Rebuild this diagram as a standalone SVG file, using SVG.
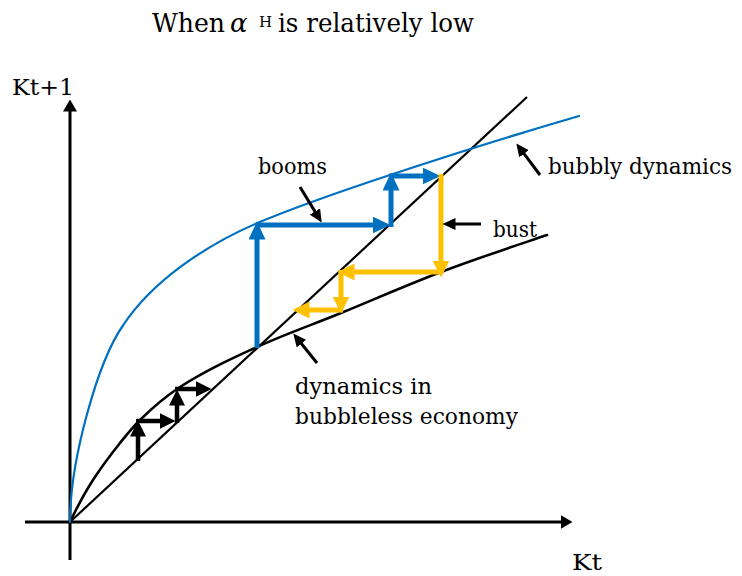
<svg xmlns="http://www.w3.org/2000/svg" width="742" height="576" viewBox="0 0 742 576">
<style>
text{font-family:"DejaVu Serif","Liberation Serif",serif;fill:#000}
.lbl{font-size:23px}
.ttl{font-size:26px}
.ax{stroke:#000;stroke-width:3;fill:none}
.curve{fill:none;stroke-linecap:round}
.bl{stroke:#0070C0;stroke-width:5;fill:none}
.yl{stroke:#FFC000;stroke-width:5;fill:none}
.bk{stroke:#000;stroke-width:4.5;fill:none}
.thin{stroke:#000;stroke-width:3;fill:none}
</style>
<defs>
<marker id="hBlue" markerUnits="userSpaceOnUse" markerWidth="18" markerHeight="17" viewBox="0 0 18 17" refX="0.5" refY="8.5" orient="auto"><path d="M0,0 L18,8.5 L0,17 z" fill="#0070C0"/></marker>
<marker id="hYel" markerUnits="userSpaceOnUse" markerWidth="17" markerHeight="17" viewBox="0 0 17 17" refX="0.5" refY="8.5" orient="auto"><path d="M0,0 L17,8.5 L0,17 z" fill="#FFC000"/></marker>
<marker id="hBlk" markerUnits="userSpaceOnUse" markerWidth="16" markerHeight="16" viewBox="0 0 16 16" refX="0.5" refY="8" orient="auto"><path d="M0,0 L16,8 L0,16 z" fill="#000"/></marker>
<marker id="hThin" markerUnits="userSpaceOnUse" markerWidth="13" markerHeight="12" viewBox="0 0 13 12" refX="0.5" refY="6" orient="auto"><path d="M0,0 L13,6 L0,12 z" fill="#000"/></marker>
<marker id="hAx" markerUnits="userSpaceOnUse" markerWidth="12" markerHeight="14" viewBox="0 0 12 14" refX="0.5" refY="7" orient="auto"><path d="M0,0 L12,7 L0,14 z" fill="#000"/></marker>
</defs>
<rect width="742" height="576" fill="#fff"/>

<text id="title" class="ttl" x="152" y="32"><tspan textLength="73" lengthAdjust="spacingAndGlyphs">When</tspan><tspan x="230" font-style="italic">α</tspan><tspan x="259" y="27" font-size="15">H</tspan><tspan x="278" y="32" textLength="196" lengthAdjust="spacingAndGlyphs">is relatively low</tspan></text>

<g id="axes">
<line class="ax" x1="70" y1="560" x2="70" y2="111" marker-end="url(#hAx)"/>
<line class="ax" x1="25" y1="522" x2="561" y2="522" marker-end="url(#hAx)"/>
<text class="lbl" x="12" y="95" font-size="24" textLength="62" lengthAdjust="spacingAndGlyphs">Kt+1</text>
<text class="lbl" x="572" y="570" font-size="24" textLength="30" lengthAdjust="spacingAndGlyphs">Kt</text>
</g>

<g id="diagonal">
<line x1="70" y1="522" x2="527" y2="97" stroke="#000" stroke-width="2.2"/>
</g>

<g id="bubbleless-curve">
<path class="curve" stroke="#000" stroke-width="2.6" d="M70,522 C77.7,505.9 85.3,491.9 93,480 C102,466 111,454.3 120,443 C126.7,434.7 133.3,426.5 140,420 C153.3,406.9 166.7,395.7 180,387 C205.7,370.3 231.3,358.8 257,347 C285,334.1 313,324.5 341,313 C374.3,299.3 407.7,284.7 441,272 C476.3,258.6 511.7,247 547,235"/>
</g>

<g id="bubbly-curve">
<path class="curve" stroke="#0070C0" stroke-width="2.2" d="M70,522 C70,460 97.9,361 123.3,325 C151,283.4 201.6,247 256.7,223.3 C301.1,204.6 345.6,189.7 390,175 C453,154.2 516,134.3 579,116"/>
</g>

<g id="connectors">
<g id="booms-path">
<line class="bl" x1="257" y1="348" x2="257" y2="239" marker-end="url(#hBlue)"/>
<line class="bl" x1="257" y1="225" x2="373" y2="225" marker-end="url(#hBlue)"/>
<line class="bl" x1="391" y1="227" x2="391" y2="190" marker-end="url(#hBlue)"/>
<line class="bl" x1="389" y1="176" x2="423" y2="176" marker-end="url(#hBlue)"/>
</g>
<g id="bust-path">
<line class="yl" x1="441" y1="174" x2="441" y2="261" marker-end="url(#hYel)"/>
<line class="yl" x1="443" y1="272" x2="354" y2="272" marker-end="url(#hYel)"/>
<line class="yl" x1="341" y1="270" x2="341" y2="297" marker-end="url(#hYel)"/>
<line class="yl" x1="343" y1="310" x2="309" y2="310" marker-end="url(#hYel)"/>
</g>
<g id="bubbleless-steps">
<line class="bk" x1="138" y1="461" x2="138" y2="436" marker-end="url(#hBlk)"/>
<line class="bk" x1="136" y1="421" x2="160" y2="421" marker-end="url(#hBlk)"/>
<line class="bk" x1="177" y1="423" x2="177" y2="405" marker-end="url(#hBlk)"/>
<line class="bk" x1="175" y1="389" x2="196" y2="389" marker-end="url(#hBlk)"/>
</g>
<g id="pointers">
<line class="thin" x1="300" y1="187" x2="315.2" y2="211.9" marker-end="url(#hThin)"/>
<line class="thin" x1="481" y1="224" x2="455" y2="224" marker-end="url(#hThin)"/>
<line class="thin" x1="540" y1="175" x2="523.8" y2="153.4" marker-end="url(#hThin)"/>
<line class="thin" x1="317" y1="363" x2="301.1" y2="343.2" marker-end="url(#hThin)"/>
</g>
</g>

<g id="labels">
<text id="lbl-booms" class="lbl" x="258" y="174" textLength="69" lengthAdjust="spacingAndGlyphs">booms</text>
<text id="lbl-bust" class="lbl" x="493" y="237" textLength="44" lengthAdjust="spacingAndGlyphs">bust</text>
<text id="lbl-bubbly" class="lbl" x="548" y="174" font-size="20" textLength="184" lengthAdjust="spacingAndGlyphs">bubbly dynamics</text>
<text id="lbl-bubbleless" class="lbl" x="295" y="394"><tspan textLength="137" lengthAdjust="spacingAndGlyphs">dynamics in</tspan><tspan x="295" y="424" textLength="223" lengthAdjust="spacingAndGlyphs">bubbleless economy</tspan></text>
</g>
</svg>
